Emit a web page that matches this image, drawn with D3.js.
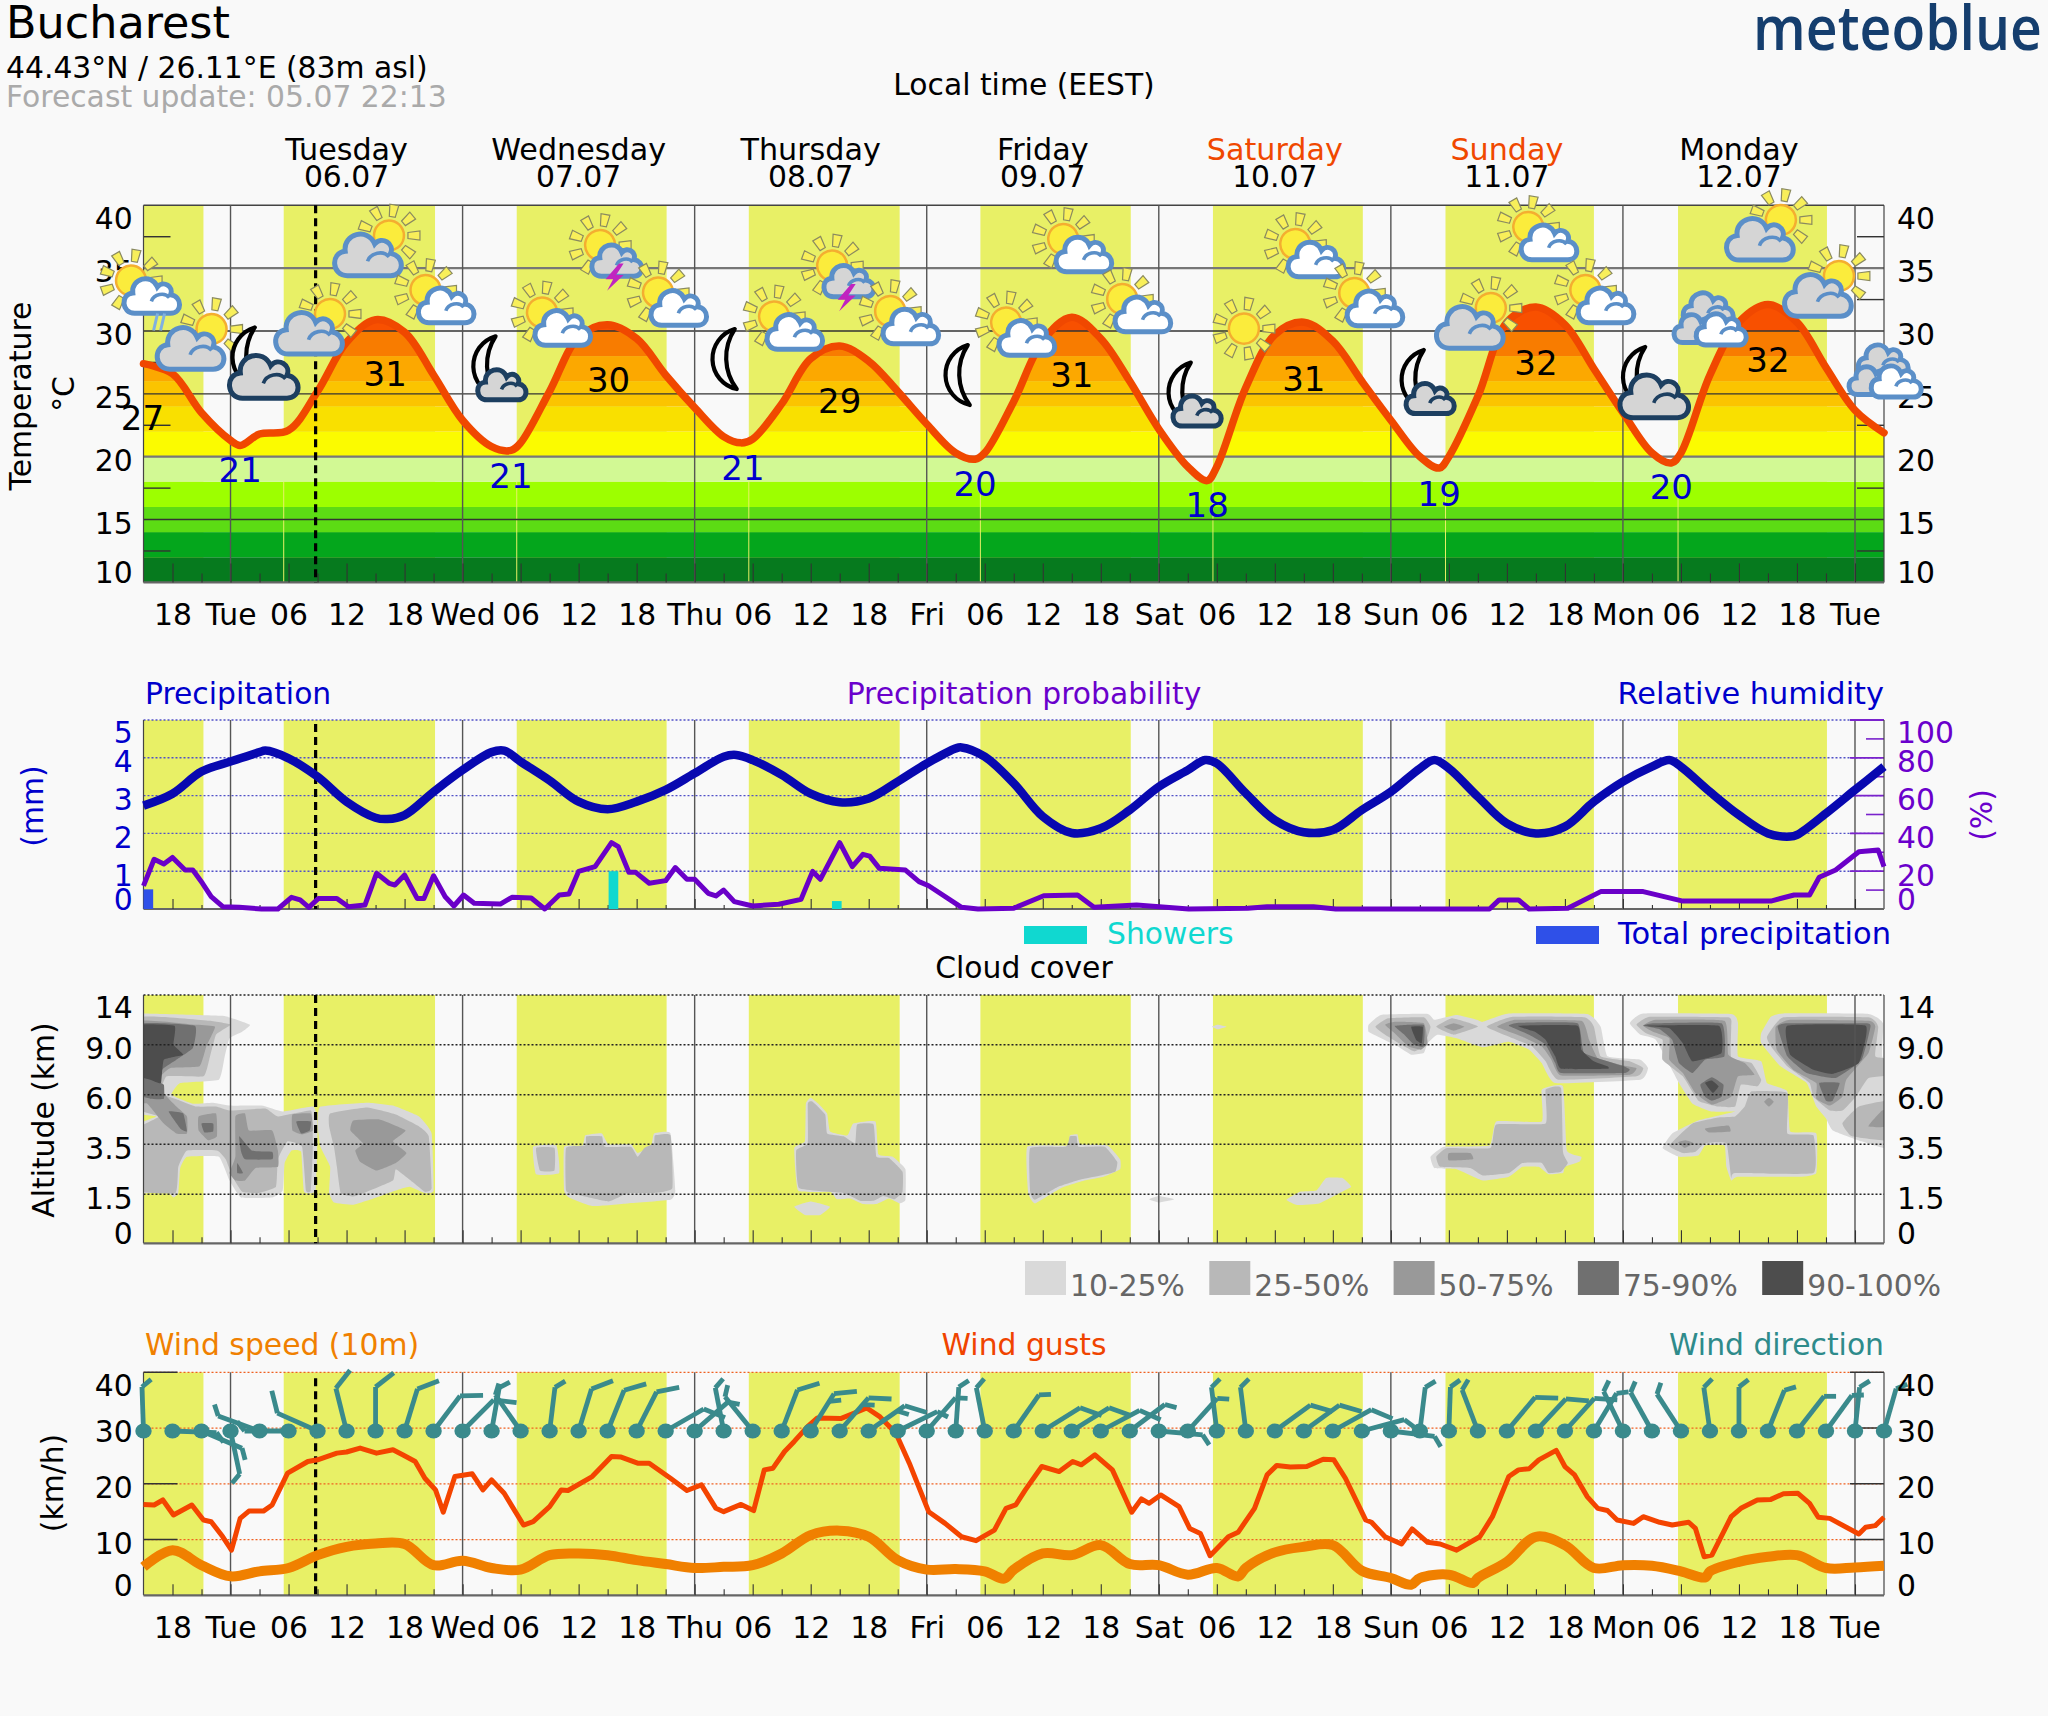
<!DOCTYPE html>
<html><head><meta charset="utf-8">
<script src="https://cdn.jsdelivr.net/npm/d3@7"></script>
<style>html,body{margin:0;padding:0;background:#f9f9f9}svg{display:block}text{font-family:"DejaVu Sans",sans-serif}</style>
</head><body><div id="c"></div>
<script>
// ---------- time base: hours since Monday 15:00, one sample per 3 h ----------
const sampleHours = d3.range(0, 181, 3);
const daylightStart = [-20, 14.5, 38.6, 62.6, 86.55, 110.6, 134.65, 158.7];
const daylightEnd   = [6.2, 30.15, 54.1, 78.2, 102.1, 126.1, 150, 174.1];
const dayLineHours  = [9, 33, 57, 81, 105, 129, 153, 177];
const tickLabels = ["18","Tue","06","12","18","Wed","06","12","18","Thu","06","12","18","Fri","06","12","18","Sat","06","12","18","Sun","06","12","18","Mon","06","12","18","Tue"];
const dayNames = ["Tuesday","Wednesday","Thursday","Friday","Saturday","Sunday","Monday"];
const dayDates = ["06.07","07.07","08.07","09.07","10.07","11.07","12.07"];
const dayNoons = [21,45,69,93,117,141,165];
const nowHour = 17.8;

// ---------- temperature ----------
const temperature = [27.4,26.6,23.5,21.3,21.8,22.1,25.2,29.1,30.9,29.9,26.5,22.9,20.8,21.1,25.2,29.5,30.5,29.4,26.5,23.9,21.6,21.4,24.2,27.8,28.8,27.6,25.2,22.6,20.3,20.3,24.4,29.2,31.1,29.4,26,22.2,19.2,19.2,25.5,29.7,30.7,29.2,26,22.9,20,20,24.8,30.7,31.9,30.5,27,23.5,20.3,20.3,26.5,30.7,32.1,30.7,27.1,23.7,21.9];
const tempExtremeHours  = [10,38,61.8,86,110,134,158];
const tempExtremeValues = [20.9,20.5,21.1,19.8,18.1,19.1,19.5];
const tempBandEdges = [10,12,14,16,18,20,22,24,26,28,30,40];
const tempBandColors = ["#067a1e","#04a61c","#5cdc14","#9dff00","#d2f994","#fbfb00","#f9e000","#fbc400","#fca800","#f87c00","#f85000"];
const tempTicks = [40,35,30,25,20,15,10];
const tempMinorTicks = [37.5,32.5,27.5,22.5,17.5,12.5];
const tempLabelHours  = [0,10,25,38,48.1,62,72,86,96,110,120,134,144,158,168];
const tempLabelPos    = [23.08,18.94,26.58,18.5,26.1,19.1,24.43,17.85,26.52,16.16,26.2,17.03,27.45,17.63,27.7];
const tempLabelValues = [27,21,31,21,30,21,29,20,31,18,31,19,32,20,32];
const tempLabelIsMin  = [0,1,0,1,0,1,0,1,0,1,0,1,0,1,0];
const iconHours = [-0.2,6,11.3,18.25,24.35,30.25,36.1,42.3,48.1,54.3,59.8,66.3,72.1,78.3,83.9,90.3,96.2,102.3,108,113.8,120.2,126.3,132.1,138.3,144.3,150.2,155.1,162.1,168.3,174.3,180.2];
const iconTemps = [33.38,29.36,27.1,30.56,36.8,32.63,26.4,30.84,36.2,32.43,27.77,30.52,34.57,30.95,26.5,30.04,36.68,31.91,24.31,30.19,36.28,32.39,25.31,31.03,37.64,32.63,25.55,30.64,38.04,33.58,26.5];
const iconKinds = ["rain","gray","moonBig","gray","gray","part","moonSmall","part","storm","part","moon","part","storm","part","moon","part","part","part","moonSmall","sun","part","part","moonSmall","gray","part","part","moonBig","clouds","gray","gray","clouds"];

// ---------- precipitation panel ----------
const humidity = [54.7,61,72.7,78,83,79.7,70,56.8,48.3,49.7,62,73.5,83,78,68,56.8,52.8,56.8,63,71.8,80.6,78.8,71,61,56.5,58.5,67.4,77,85,80.6,66.5,48.9,40.2,42.7,52.4,64.7,73.5,77,61.2,47,40.6,41.8,52.4,62,74.4,74.4,59.4,45.3,40,43.6,56.8,67.4,75.3,75.3,62,49.7,40,39.2,50.6,63,75.3];
const humidityExtremeHours  = [12.6,25.2,37.3,61.3,84.6,109.8,133.5,157.8,170.3];
const humidityExtremeValues = [83.8,47.6,83.8,81.5,85.5,78.8,78.8,78.8,38.3];
const probHours = [0,1.1,2.1,3,4.3,5.1,6.1,7,8.2,9.9,12.2,13.9,15.3,16.2,17.1,18.1,20,21.2,22.9,24.1,25.4,26,27,28.3,29,30,31.2,32.1,33.1,34.2,36.9,38.1,40.1,41.5,43,44,45,46.7,48.4,49.1,50.2,50.9,52.3,54,55,56.2,57,58.4,59.2,60,61.1,63,65.7,68,69.2,70,72,73.3,74.4,75.1,76.1,78.8,80.2,81.2,84.6,86.3,90,93.1,96.6,98.3,102.7,108.1,114.2,116.2,121,123.3,139.2,140.2,142.2,143.3,147.3,150.7,155.1,159.2,168.3,170.7,172.3,173.3,175,177.4,179.4,180];
const probValues = [12.2,26.3,23.8,27.3,20.6,20.6,13.6,6.5,1.2,.9,0,0,6.2,4.8,.9,5.6,5.6,1.2,2.1,18.9,13.6,12.7,18,5.6,5.6,17.6,6.5,1.6,7.4,3,2.6,6.2,5.8,0,7.4,7.9,19.9,22.4,35.1,33,19.4,19.4,13.6,15,21.9,15.7,15.7,8.3,6.9,10,3.9,1.6,2.5,5.1,19.9,15.7,35.1,22.4,28.9,28,21.5,20.6,14.5,12.3,.9,0,.4,7,7.4,.9,2.1,0,.4,1.2,1.2,0,0,4.8,4.8,0,.4,9.2,9.2,4.2,4.2,7.4,7.4,16.8,20.6,30.3,31.2,22.4];
const totalPrecipHours = [0];
const totalPrecipValues = [0.52];
const showerHours = [48.1,71.2];
const showerValues = [1.0,0.21];
const mmTicks = [5,4,3,2,1,0];
const pctTicks = [100,80,60,40,20,0];
const pctMinorTicks = [90,70,50,30,10];

// ---------- cloud cover: one list of outlines (hour, km) per class ----------
const cloudAlts = [0,1.5,3.5,6,9,14];
const cloudAltLabels = ["0","1.5","3.5","6.0","9.0","14"];
const cloud10 = [
 [[-1,12.15],[0,12.15],[8.2,11.9],[11,11],[10.2,10.3],[8.9,9.65],[8.4,8.3],[7.8,6.9],[3.8,6.7],[2.9,6],[5.1,5.55],[7.2,5.6],[9,5.45],[12.2,5.45],[14.4,5.15],[17.6,5.4],[18,4.4],[17.8,1.65],[16.6,1.6],[16.3,3.2],[15.3,3.25],[14.6,2.75],[14.4,1.65],[13.3,1.4],[10.1,1.4],[8.9,2.05],[7.8,3],[4.5,3],[3.8,2.55],[3.6,1.55],[3.1,1.4],[2.4,1.6],[-1,1.6],[-1,4.35],[1.3,4.9],[-1,5.25]],
 [[18.3,5.4],[23.1,5.6],[25.8,5.45],[28.5,4.9],[29.8,4.05],[30,1.65],[29.1,1.55],[27.5,1.8],[26.1,1.65],[23.4,1.33],[21.7,1.18],[19.7,1.25],[19.2,1.55],[19.3,2.6],[18.3,3.4],[18,4.55]],
 [[40.3,3.4],[42.7,3.45],[43,2.35],[40.6,2.3]],
 [[43.5,3.4],[45.4,3.45],[45.7,3.95],[47.4,4.05],[48.1,3.5],[50.4,3.5],[51.1,3.15],[52.5,3.45],[52.8,4.05],[54.5,4.05],[55,1.65],[54.5,1.33],[50.1,1.22],[46.4,1.14],[44,1.4],[43.5,1.65]],
 [[69,5.85],[69.8,5.55],[70.7,5.05],[71,4.15],[72.8,3.95],[73.4,4.55],[75.7,4.65],[76,3.1],[77.5,3],[78.8,2.5],[78.8,1.33],[78.2,1.22],[77.1,1.37],[75.8,1.2],[74.4,1.2],[73.1,1.37],[71.7,1.35],[71,1.6],[67.7,1.65],[67.3,3.35],[68.4,3.65],[68.5,5.55]],
 [[67.3,1.12],[69,1.28],[71,1.12],[70,.87],[68.4,.87]],
 [[91.4,3.4],[95.6,3.45],[95.8,3.95],[96.6,4],[96.9,3.5],[99.7,3.45],[101,2.9],[101,2.5],[99.3,2.2],[97.3,2.05],[94.9,1.75],[92.2,1.22],[91.5,1.55]],
 [[104,1.35],[105,1.45],[106.6,1.35],[105,1.25]],
 [[118.2,1.33],[119.6,1.6],[121.3,1.65],[122.3,2.15],[124,2.15],[124.9,1.8],[123.7,1.55],[121.6,1.22],[119.3,1.17]],
 [[110.5,10.8],[111.1,11],[112,10.8],[111.1,10.55]],
 [[126.7,11],[128,12],[132.8,12.1],[133.5,11.5],[135.8,12],[137.9,11.5],[138.5,11.3],[141.2,12.15],[149.3,12.1],[150.7,10.8],[151.4,8.3],[154.8,8.1],[155.6,7.6],[154.8,6.9],[146,6.7],[144.6,7.9],[143.3,8.7],[141.2,9.3],[138.5,8.85],[135.8,9.65],[133.8,10],[132.8,9.15],[132.4,8.5],[131.1,8.4],[129.7,8.9],[128,9.65],[126.7,10.3]],
 [[133.1,3],[134.5,3.4],[139.2,3.45],[139.9,4.65],[144.6,4.65],[144.6,6.3],[146.8,6.5],[147.2,3.25],[148.7,3],[148.5,2.8],[147,2.6],[146.8,2.35],[145.3,2.3],[144.3,2.6],[142.6,2.6],[141.2,2.2],[138.5,2.05],[135.8,2.5],[133.5,2.55]],
 [[153.7,11.15],[155.1,12.15],[164.2,12.1],[164.9,11.15],[164.9,8.3],[167.3,8],[167.9,6.7],[170,6.2],[170.3,4.15],[173,4.05],[173,2.35],[171.3,2.2],[164.9,2.2],[164.2,2.05],[163.7,2.6],[163.5,3.45],[161.5,3.45],[160.8,3.05],[158.8,3],[157.1,3.35],[158.1,4.05],[160.8,4.7],[164.6,5.15],[162.2,5.15],[160.2,5.55],[158.8,6.7],[156.4,9.5],[154.8,10]],
 [[167.3,10.15],[168.3,11.8],[169.6,12.15],[178.4,12.1],[179.9,11.15],[179.8,8.3],[181,7.3],[181,3.35],[177.7,3.65],[174.7,4.2],[174,4.8],[173,5.4],[172,6.7],[169.3,7.7],[167.3,9.15]]
];
const cloud25 = [
 [[-1,11.65],[6.8,11.4],[9,11],[7.5,10],[6.8,8.1],[6.2,7.1],[2.4,7.1],[1.8,6.1],[3.8,5.7],[5.5,5.4],[7.5,5.4],[8.9,5.2],[12.6,5.3],[13.9,4.9],[17.3,5.2],[17.5,4.3],[17.5,3.15],[17.3,1.65],[16.8,1.65],[16.4,3.4],[14.9,3.65],[13.9,2.9],[13.7,1.8],[11.9,1.55],[10.2,1.6],[9.2,2.2],[8.5,2.9],[7.6,3.25],[4.5,3.25],[3.6,2.6],[3.3,1.55],[-1,1.7],[-1,4.15],[1.6,4.9],[-1,5.45]],
 [[19.3,5.05],[23.1,5.35],[26.1,5],[28.5,4.4],[29.5,3.9],[29.8,1.75],[29.1,1.6],[27.8,2],[26.1,2.5],[25.8,2.05],[23.1,1.6],[21.7,1.43],[20.4,1.55],[20,2.6],[19.7,3.4],[19.2,4.4]],
 [[40.6,3.35],[42.5,3.35],[42.5,2.45],[41,2.45]],
 [[43.7,3.35],[45.7,3.45],[45.8,3.9],[47.4,3.9],[47.7,3.4],[50.4,3.4],[51.1,3],[51.8,3.35],[52.8,3.55],[52.9,3.95],[54.5,3.95],[54.7,1.75],[52.8,1.55],[50.1,1.55],[48.1,1.28],[44.7,1.5],[43.7,1.65]],
 [[69.2,5.65],[70.5,5],[70.7,4.05],[72.4,3.9],[73.6,3.55],[73.8,4.5],[75.5,4.5],[75.8,3],[77.1,2.95],[78.5,2.4],[78.5,1.6],[77.7,1.35],[76.5,1.45],[75.5,1.3],[74.1,1.3],[72.4,1.55],[67.8,1.75],[67.5,3.25],[68.7,3.55],[68.7,5.55]],
 [[91.7,3.35],[95.4,3.4],[95.8,3.9],[96.5,3.9],[96.7,3.4],[99.4,3.4],[100.7,2.8],[100.5,2.4],[99,2.25],[97,2.1],[94.6,1.8],[92.2,1.33],[91.7,1.6]],
 [[127.4,10.8],[128.7,11.65],[132.4,11.75],[133.1,10.8],[132.8,9.8],[132.1,8.8],[131.4,8.6],[130.1,9],[128.4,10]],
 [[133.7,10.8],[135.3,11.65],[137.2,11.15],[138,10.8],[135.5,10]],
 [[138.9,10.8],[141.6,11.8],[149,11.75],[150,10.8],[150.7,8.3],[153.7,8],[155.1,7.6],[154.4,7.1],[146.3,6.9],[145,8],[143.6,8.9],[141.6,9.65]],
 [[133.7,3],[134.8,3.35],[139.3,3.35],[139.9,4.5],[145,4.55],[145,6.3],[146.6,6.4],[146.8,3.2],[147.3,2.75],[146.6,2.4],[145.3,2.35],[144.6,2.75],[142.6,2.75],[141.2,2.35],[138.5,2.25],[137.2,2.55],[134.1,2.6]],
 [[154.4,11],[155.8,11.8],[163.9,11.75],[164.2,10.8],[164.2,8.2],[166.3,7.9],[167.3,6.9],[166.9,6.5],[165.2,6.6],[164.6,5.4],[162.9,5.4],[160.8,5.7],[159.2,7.1],[157.1,8.1],[157.1,9.5],[155.4,10.15]],
 [[166.3,6.2],[170,6.1],[170,4.05],[172.7,3.95],[172.7,2.35],[164.6,2.35],[164.2,2.15],[163.7,3.55],[161.5,3.55],[160.5,3.2],[159.2,3.15],[157.8,3.45],[160.2,4.55],[162.9,4.85],[164.6,4.9],[165.6,5.4]],
 [[167.9,9.8],[169.6,11.75],[178.4,11.75],[179.4,10.8],[179.1,8.3],[181,8.1],[181,7.2],[178.4,7],[177.1,5.9],[175.7,5.2],[174.4,5.2],[172.7,5.9],[172.3,6.7],[170,7.7],[168.3,8.9]],
 [[175.7,4.55],[177.4,5.4],[181,5.7],[181,3.7],[176.7,3.9]]
];
const cloud50 = [
 [[-1,11.3],[5.5,11],[7.4,10.8],[6.5,8.9],[5.8,7.7],[2.8,7.6],[1.8,7.1],[2.1,6.1],[3.4,5.4],[4.5,4.9],[4.5,4.05],[3.4,4.05],[2.1,4.55],[.4,5.55],[-1,5.7]],
 [[5.7,4.9],[7.5,5.05],[7.6,3.9],[6.7,3.7],[5.7,4.2]],
 [[9.5,4.9],[10.5,5.05],[10.9,4.2],[13.3,4.2],[13.9,3.25],[13.9,2.6],[11.6,2.55],[10.5,2.05],[9.5,2.05],[8.9,2.35],[9.5,3]],
 [[15.4,5],[17.3,5.05],[17.5,4.2],[16.4,4],[15.4,4.2]],
 [[21.7,4.7],[24.4,4.75],[27.1,4.2],[25.8,3.65],[27.2,3.15],[26.1,2.75],[24.1,2.45],[22.4,2.8],[21.9,3.25],[22.7,3.55],[21.4,4.2]],
 [[128.4,11],[129.4,11.3],[132.4,11.15],[132.8,9.15],[132.1,8.7],[130.8,8.9],[129.4,10.15]],
 [[134.5,10.8],[135.5,11.15],[136.6,10.8],[135.5,10.4]],
 [[140,10.8],[141.9,11.5],[148.7,11.4],[149.5,9.5],[150.4,8.2],[152.7,7.8],[154.4,7.6],[153.7,7.2],[146.6,7.15],[145.6,8.1],[144.6,8.9],[142.6,9.8]],
 [[135,3.15],[137.2,3.15],[137.5,2.9],[135,2.85]],
 [[155.1,10.9],[156.4,11.5],[163.5,11.4],[163.9,8.4],[165.6,7.9],[166.6,7.2],[164.9,7.1],[164.2,5.9],[162.2,5.5],[160.5,6.1],[159.2,7.3],[157.8,8.1],[157.8,9.65],[156.1,10.3]],
 [[161.5,4.3],[163.9,4.45],[164.1,4.15],[161.9,4.1]],
 [[158.7,3.6],[159.5,3.7],[160.3,3.55],[159.4,3.35]],
 [[168.1,5.85],[168.6,5.65],[168.1,5.4],[167.6,5.65]],
 [[168.8,10.8],[170.3,11.5],[178.4,11.4],[179.1,10.8],[178.4,8.5],[176.1,6.9],[175.7,5.9],[174.4,5.45],[173,5.8],[173,6.7],[170.6,7.5],[168.9,8.7]],
 [[178.4,4.4],[179.8,5.2],[181,5.2],[181,4.4]]
];
const cloud75 = [
 [[-1,11],[5.3,10.9],[5.1,8.8],[3.4,8.1],[2.1,7.6],[1.1,6.9],[2.1,6.6],[2.1,5.8],[.7,5.8],[-1,6.2]],
 [[2.6,5.15],[4.1,5.05],[4.5,4.15],[3.8,4.3]],
 [[6,4.55],[7.2,4.55],[7.2,4.15],[6.3,4.1]],
 [[9.9,3.9],[11.2,3.25],[13.3,3.2],[13.3,2.9],[10.5,2.9],[10.1,3.2]],
 [[15.8,4.65],[17.3,4.65],[17.2,4.2],[16.3,4.05]],
 [[9.7,2.75],[10.3,2.35],[9.7,2.35]],
 [[129.4,10.9],[132.4,11],[132.4,8.9],[131.4,9],[130.4,10]],
 [[141.2,10.9],[142.2,11.2],[148.3,11.15],[149,8.5],[153.1,7.7],[153.7,7.5],[153.1,7.3],[146.6,7.3],[146,7.9],[145,9],[143.3,10]],
 [[155.1,10.9],[156.1,11.15],[163.2,11.15],[163.5,8.3],[161.5,8.1],[160.2,7.3],[158.8,7.9],[158.1,9.5],[156.8,10.55]],
 [[161,6.6],[162.2,7.05],[163.4,6.6],[163.2,5.9],[162.2,5.7],[161.5,5.9]],
 [[169,10.8],[170,11.15],[178.1,11.15],[178.6,10.8],[177.7,8.1],[175,7],[172,7.3],[170,8.3]],
 [[173.3,6.7],[175.4,6.7],[174.7,5.7],[174,5.7]]
];
const cloud90 = [
 [[-1,10.9],[3.2,10.9],[3.1,9],[4.1,8.4],[2.1,8.1],[1.8,6.7],[.7,6.9],[-1,7.3]],
 [[131.1,10.8],[132.3,10.8],[132.2,9.15],[131.6,9.5]],
 [[142.2,10.9],[148.3,10.9],[148.7,8.7],[150,8],[151.4,7.7],[151.4,7.55],[146.6,7.55],[146,8.3],[145,9.5],[143.9,10.3]],
 [[155.1,10.9],[162.9,10.9],[163.2,8.5],[160.2,8],[159.2,9.15],[157.8,10.65]],
 [[161.5,6.7],[162.2,6.85],[162.9,6.5],[162.3,6.1]],
 [[170,10.9],[178.1,10.9],[177.4,7.9],[174.7,7.25],[172.7,7.5],[170.3,8.4]]
];
const cloudClasses = [cloud10,cloud25,cloud50,cloud75,cloud90];
const cloudColors = ["#d9d9d9","#b8b8b8","#999999","#707070","#4d4d4d"];
const cloudLegend = ["10-25%","25-50%","50-75%","75-90%","90-100%"];

// ---------- wind ----------
const windSpeed = [5.1,8.1,5.4,3.4,4.3,4.9,7.2,8.7,9.3,9.2,5.4,6.2,4.9,4.6,7.2,7.5,7.2,6.3,5.6,4.9,5.1,5.4,7.5,10.8,11.6,10.5,6.3,4.6,4.7,4.3,4.6,7.5,7.2,9,5.6,5.4,3.7,4.9,4.9,7.7,8.7,9,4.4,3.1,3.1,3.7,3.1,6,10.5,9,4.9,5.4,5.3,4.3,4.3,6,6.9,7.2,4.9,5,5.3];
const windDipHours  = [89,113.2,131.1,137.5,161.5];
const windDipValues = [3,3.4,1.9,2.2,3.2];
const gustHours = [0,1.1,2,3.1,5,6.2,7,8.2,9.1,10,10.9,12.4,13.3,14.9,17,18,20,21,22.4,24.1,25.8,26.8,28.1,29.1,30.2,31,32.2,34,35.1,36,37.3,39.3,40.3,42,43.2,43.9,46.4,48.4,49.4,51.1,52.3,54.5,56.2,57.7,59.2,60,61.8,63.1,64.2,65.1,66.3,67.3,68.7,69.7,72.1,74.8,76.1,77.8,79.2,81.2,82.9,84.6,86.1,88,89.2,90.2,91.2,92.9,94.7,96.1,97,98.4,100.2,102.2,103.2,104,105.2,107.1,108.2,109.3,110.3,112.2,113.2,114.9,116.2,117.2,118.6,120.3,122,123.1,124.3,126.4,127,128.4,130.1,131.2,132.8,134.1,135.8,138.2,139.5,141.2,142.2,143.3,144.3,146.1,147,148,149.3,150.4,151.4,152.4,154.1,155.1,156.8,158.1,159.8,160.5,161.4,162.2,164.2,165.2,166.9,168.3,169.6,171.1,172.3,173.2,174.4,177.4,178.1,179.1,180];
const gustValues = [16.3,16.2,17.1,14.4,16.2,13.5,13.2,10.5,8.1,13.8,15.1,15.1,16.2,21.9,24,24.3,25.5,25.7,26.4,25.5,26.1,25.2,24,21,18.9,14.9,21.3,21.8,18.9,20.7,18.3,12.6,13.2,15.9,18.9,18.8,21.3,24.9,24.8,23.7,23.7,21,18.8,19.8,15.6,15,16.3,15.2,22.5,22.8,25.8,27.6,30.3,31.8,31.7,33.6,32.1,29.1,23.7,15,12.9,10.5,9.8,11.7,15.6,16.2,18.9,23.1,22.2,24,23.4,25.2,22.5,14.9,17.3,16.5,18,15.9,12,11.1,7.1,10.5,11.3,15.6,21.6,23.3,23,23.1,24.4,24.3,21,13.5,13.1,10.5,9.2,11.9,9.5,9.2,8.1,10.5,14.1,21.3,22.5,22.7,24.3,26,23.1,21.6,17.7,15.6,15.2,13.5,12.9,14.1,13.1,12.6,13.1,12,6.9,7.2,14.1,15.6,17.1,17.2,18.2,18.3,16.5,14,13.8,11,12.2,12.5,14];
const windDirection = [358,92,113,168,290,270,294,346,0,17,37,45,10,325,7,17,22,27,60,49,349,321,21,32,41,55,64,41,4,349,35,58,58,62,53,95,42,353,353,54,54,61,75,97,7,2,339,40,43,42,31,334,331,327,352,0,22,38,36,6,16];
const windBarbUnits = [1,1,1,1,1,1,2,2,2,2,2,2,1,1,1,2,2,2,2,1,1,1,2,3,3,3,1,1,1,1,1,2,2,2,1,1,1,1,1,2,2,2,1,1,1,1,1,2,2,2,1,1,1,1,1,1,1,1,1,1,1];
const windTicks = [40,30,20,10,0];

// ---------- layout ----------
const W=2048,H=1716,L=143.5,R=1884,FS=29.8;
const x=d3.scaleLinear().domain([0,180]).range([L,R]);
const yT=d3.scaleLinear().domain([10,40]).range([582.4,205.3]);
const yP=d3.scaleLinear().domain([0,100]).range([909,720]);
const yMm=d3.scaleLinear().domain([0,5]).range([909,720]);
const yC=d3.scaleLinear().domain(cloudAlts).range([1243.3,1194.3,1144.3,1094.7,1044.7,995]);
const yW=d3.scaleLinear().domain([0,40]).range([1595.3,1372.3]);
const merged=(hs,vs,eh,ev)=>hs.map((h,i)=>[h,vs[i]]).concat(eh.map((h,i)=>[h,ev[i]])).sort((a,b)=>a[0]-b[0]);

const svg=d3.select("#c").append("svg").attr("width",W).attr("height",H).attr("viewBox",`0 0 ${W} ${H}`);
svg.append("rect").attr("width",W).attr("height",H).attr("fill","#f9f9f9");
const defs=svg.append("defs");
function txt(g,xx,yy,s,o={}){
  const t=g.append("text").attr("x",xx).attr("y",yy).attr("dy",".36em").text(s)
   .attr("font-size",o.size||FS).attr("fill",o.fill||"#000").attr("text-anchor",o.anchor||"start");
  if(o.rot) t.attr("transform",`rotate(${o.rot} ${xx} ${yy})`);
  if(o.weight) t.attr("font-weight",o.weight);
  return t;
}
function stripes(g,top,bot){
  daylightStart.forEach((s,i)=>{
    const a=Math.max(x(s),L),b=x(daylightEnd[i]);
    g.append("rect").attr("x",a).attr("y",top).attr("width",b-a).attr("height",bot-top).attr("fill","#e8f066");
  });
}
function dayLines(g,top,bot){
  dayLineHours.forEach(h=>g.append("line").attr("x1",x(h)).attr("x2",x(h)).attr("y1",top).attr("y2",bot).attr("stroke","#555").attr("stroke-width",1.4));
}
function frame(g,top,bot){
  g.append("line").attr("x1",L).attr("x2",L).attr("y1",top).attr("y2",bot).attr("stroke","#444").attr("stroke-width",1.2);
  g.append("line").attr("x1",R).attr("x2",R).attr("y1",top).attr("y2",bot).attr("stroke","#444").attr("stroke-width",1.2);
  g.append("line").attr("x1",L).attr("x2",R).attr("y1",bot).attr("y2",bot).attr("stroke","#666").attr("stroke-width",2.2);
}
function nowLine(g,top,bot){
  g.append("line").attr("x1",x(nowHour)).attr("x2",x(nowHour)).attr("y1",top).attr("y2",bot)
   .attr("stroke","#000").attr("stroke-width",3.2).attr("stroke-dasharray","8 5");
}
function timeTicks(g,bot,tall,short,labels,pad){
  const major=d3.range(3,180,6), minor=d3.range(6,180,6);
  const ax=g.append("g").attr("transform",`translate(0,${bot})`)
    .call(d3.axisBottom(x).tickValues(major).tickSize(-tall).tickPadding(pad||0).tickFormat((d,i)=>labels?tickLabels[i]:""));
  const bx=g.append("g").attr("transform",`translate(0,${bot})`)
    .call(d3.axisBottom(x).tickValues(minor).tickSize(-short).tickFormat(""));
  [ax,bx].forEach(a=>{a.select(".domain").remove();a.selectAll("line").attr("stroke","#333").attr("stroke-width",1.1);
    a.selectAll("text").attr("font-size",FS).attr("font-family","DejaVu Sans").attr("fill","#000");});
}
function yLabels(g,values,scale,labels,top,bot,xx,anchor,fill){
  values.forEach((v,i)=>{
    const py=Math.min(Math.max(scale(v)+3.6,top+12.7),bot-10.2);
    txt(g,xx,py,labels?labels[i]:String(v),{anchor,fill});
  });
}
function hTicks(g,values,scale,len,color,w,both=true){
  values.forEach(v=>{
    if(both) g.append("line").attr("x1",L).attr("x2",L+len).attr("y1",scale(v)).attr("y2",scale(v)).attr("stroke",color).attr("stroke-width",w);
    g.append("line").attr("x1",R-len).attr("x2",R).attr("y1",scale(v)).attr("y2",scale(v)).attr("stroke",color).attr("stroke-width",w);
  });
}

// ---------- header ----------
const head=svg.append("g");
txt(head,6,22,"Bucharest",{size:44.5});
txt(head,6,67,"44.43°N / 26.11°E (83m asl)");
txt(head,6,96,"Forecast update: 05.07 22:13",{fill:"#aaaaaa"});
txt(head,1024,84,"Local time (EEST)",{anchor:"middle"});
txt(head,1753,28,"meteoblue",{size:62,fill:"#153e6e",weight:600}).style("font-family","'Open Sans'").attr("textLength",289).attr("lengthAdjust","spacingAndGlyphs");
dayNames.forEach((d,i)=>{
  const c=(d==="Saturday"||d==="Sunday")?"#f04800":"#000";
  txt(head,x(dayNoons[i]),149,d,{anchor:"middle",fill:c,size:30.2});
  txt(head,x(dayNoons[i]),176,dayDates[i],{anchor:"middle"});
});

// ---------- temperature panel ----------
const gT=svg.append("g");
const plotT=[yT(40),yT(10)];
stripes(gT,plotT[0],plotT[1]);
const tempXY=merged(sampleHours,temperature,tempExtremeHours,tempExtremeValues);
const tempArea=d3.area().x(d=>x(d[0])).y0(yT(10)).y1(d=>yT(d[1])).curve(d3.curveCatmullRom.alpha(.5));
defs.append("clipPath").attr("id","tempClip").append("path").attr("d",tempArea(tempXY));
const bands=gT.append("g").attr("clip-path","url(#tempClip)");
tempBandColors.forEach((c,i)=>bands.append("rect").attr("x",L).attr("width",R-L)
  .attr("y",yT(tempBandEdges[i+1])).attr("height",yT(tempBandEdges[i])-yT(tempBandEdges[i+1])).attr("fill",c));
daylightStart.slice(1).forEach(s=>gT.append("line").attr("x1",x(s)).attr("x2",x(s)).attr("y1",yT(18)).attr("y2",yT(10)).attr("stroke","#e8f066").attr("stroke-width",1));
gT.append("line").attr("x1",L).attr("x2",R).attr("y1",yT(40)).attr("y2",yT(40)).attr("stroke","#444").attr("stroke-width",1.4);
tempTicks.slice(1,6).forEach(v=>gT.append("line").attr("x1",L).attr("x2",R).attr("y1",yT(v)).attr("y2",yT(v))
  .attr("stroke",(v===35||v===20)?"#777":"#333").attr("stroke-width",(v===35||v===20)?2.3:1.4));
dayLines(gT,plotT[0],plotT[1]);
hTicks(gT,tempMinorTicks,yT,27,"#333",1.4);
frame(gT,plotT[0],plotT[1]);
timeTicks(gT,plotT[1],19,9,true,21);
gT.append("path").attr("d",d3.line().x(d=>x(d[0])).y(d=>yT(d[1])).curve(d3.curveCatmullRom.alpha(.5))(tempXY))
  .attr("fill","none").attr("stroke","#f04800").attr("stroke-width",7.5).attr("stroke-linecap","round");
nowLine(gT,plotT[0],plotT[1]);
yLabels(gT,tempTicks,yT,null,plotT[0],plotT[1],132.6,"end");
yLabels(gT,tempTicks,yT,null,plotT[0],plotT[1],1897,"start");
txt(gT,20,396,"Temperature",{anchor:"middle",rot:-90});
txt(gT,63,394,"°C",{anchor:"middle",rot:-90});
tempLabelValues.forEach((v,i)=>txt(gT,x(tempLabelHours[i])+(i===0?-1:0),yT(tempLabelPos[i]),String(v),
  {size:34,anchor:"middle",fill:tempLabelIsMin[i]?"#0000cc":"#000"}));

// ---------- precipitation panel ----------
const gP=svg.append("g");
const plotP=[yP(100),yP(0)];
stripes(gP,plotP[0],plotP[1]);
mmTicks.slice(0,5).forEach(v=>gP.append("line").attr("x1",L).attr("x2",R).attr("y1",yMm(v)).attr("y2",yMm(v))
  .attr("stroke","#5050c8").attr("stroke-width",1.4).attr("stroke-dasharray","2 2"));
dayLines(gP,plotP[0],plotP[1]);
hTicks(gP,pctTicks,yP,34,"#7a22cc",1.8,false);
hTicks(gP,pctMinorTicks,yP,18,"#7a22cc",1.6,false);
frame(gP,plotP[0],plotP[1]);
timeTicks(gP,plotP[1],10,4,false);
gP.selectAll(".tp").data(totalPrecipHours).join("rect").attr("x",d=>x(d)).attr("width",d=>x(d+1)-x(d))
  .attr("y",(d,i)=>yMm(totalPrecipValues[i])).attr("height",(d,i)=>yMm(0)-yMm(totalPrecipValues[i])).attr("fill","#2f50e8");
gP.selectAll(".sh").data(showerHours).join("rect").attr("x",d=>x(d)).attr("width",d=>x(d+1)-x(d))
  .attr("y",(d,i)=>yMm(showerValues[i])).attr("height",(d,i)=>yMm(0)-yMm(showerValues[i])).attr("fill","#10d8d0");
nowLine(gP,plotP[0]+4,plotP[1]);
gP.append("path").attr("d",d3.line().x(d=>x(d[0])).y(d=>yP(d[1])).curve(d3.curveCatmullRom.alpha(.5))(merged(sampleHours,humidity,humidityExtremeHours,humidityExtremeValues)))
  .attr("fill","none").attr("stroke","#0808b0").attr("stroke-width",8.5);
gP.append("path").attr("d",d3.line().x(d=>x(d)).y((d,i)=>yP(probValues[i])).curve(d3.curveLinear)(probHours))
  .attr("fill","none").attr("stroke","#6a00c8").attr("stroke-width",5).attr("stroke-linejoin","round");
yLabels(gP,mmTicks,yMm,null,plotP[0],plotP[1],132.6,"end","#0000cc");
yLabels(gP,pctTicks,yP,null,plotP[0],plotP[1],1897,"start","#6a00cc");
txt(gP,145,693,"Precipitation",{fill:"#0000cc"});
txt(gP,1024,693,"Precipitation probability",{anchor:"middle",fill:"#6a00cc"});
txt(gP,1884,693,"Relative humidity",{anchor:"end",fill:"#0000cc",size:30.4});
txt(gP,32,806,"(mm)",{anchor:"middle",rot:-90,fill:"#0000cc"});
txt(gP,1981,815,"(%)",{anchor:"middle",rot:-90,fill:"#6a00cc"});
gP.append("rect").attr("x",1024).attr("y",926).attr("width",63).attr("height",18).attr("fill","#10d8d0");
txt(gP,1107,933,"Showers",{fill:"#10d8d0"});
gP.append("rect").attr("x",1536).attr("y",926).attr("width",63).attr("height",18).attr("fill","#2f50e8");
txt(gP,1618,933,"Total precipitation",{fill:"#0000cc",size:30.5});

// ---------- cloud panel ----------
const gC=svg.append("g");
const plotC=[yC(14),yC(0)];
stripes(gC,plotC[0],plotC[1]);
defs.append("clipPath").attr("id","cloudClip").append("rect").attr("x",L).attr("y",plotC[0]).attr("width",R-L).attr("height",plotC[1]-plotC[0]);
const blobs=gC.append("g").attr("clip-path","url(#cloudClip)");
const blobLine=d3.line().x(d=>x(d[0])).y(d=>yC(d[1])).curve(d3.curveCardinalClosed.tension(.65));
cloudClasses.forEach((rings,i)=>{
  blobs.append("g").attr("fill",cloudColors[i]).selectAll("path").data(rings).join("path").attr("d",blobLine);
});
cloudAlts.slice(1).forEach(v=>gC.append("line").attr("x1",L).attr("x2",R).attr("y1",yC(v)).attr("y2",yC(v))
  .attr("stroke","#222").attr("stroke-width",1.5).attr("stroke-dasharray","2 2"));
dayLines(gC,plotC[0],plotC[1]);
frame(gC,plotC[0],plotC[1]);
timeTicks(gC,plotC[1],13,6,false);
nowLine(gC,plotC[0],plotC[1]);
yLabels(gC,cloudAlts,yC,cloudAltLabels,plotC[0],plotC[1],132.6,"end");
yLabels(gC,cloudAlts,yC,cloudAltLabels,plotC[0],plotC[1],1897,"start");
txt(gC,1024,967,"Cloud cover",{anchor:"middle"});
txt(gC,43,1120,"Altitude (km)",{anchor:"middle",rot:-90});
cloudLegend.forEach((s,i)=>{
  const sx=1025+i*184.3;
  gC.append("rect").attr("x",sx).attr("y",1261).attr("width",41).attr("height",34).attr("fill",cloudColors[i]);
  txt(gC,sx+45,1285,s,{fill:"#666"});
});

// ---------- wind panel ----------
const gW=svg.append("g");
const plotW=[yW(40),yW(0)];
stripes(gW,plotW[0],plotW[1]);
windTicks.slice(0,4).forEach(v=>gW.append("line").attr("x1",L).attr("x2",R).attr("y1",yW(v)).attr("y2",yW(v))
  .attr("stroke","#f06020").attr("stroke-width",1.3).attr("stroke-dasharray","2 2"));
dayLines(gW,plotW[0],plotW[1]);
hTicks(gW,[40,20,10],yW,34,"#333",1.6);
gW.append("line").attr("x1",R-34).attr("x2",R).attr("y1",yW(30)).attr("y2",yW(30)).attr("stroke","#333").attr("stroke-width",1.4);
frame(gW,plotW[0],plotW[1]);
timeTicks(gW,plotW[1],11,6,true,22);
nowLine(gW,plotW[0]+6,plotW[1]);
gW.append("path").attr("d",d3.line().x(d=>x(d[0])).y(d=>yW(d[1])).curve(d3.curveCatmullRom.alpha(.5))(merged(sampleHours,windSpeed,windDipHours,windDipValues)))
  .attr("fill","none").attr("stroke","#f08000").attr("stroke-width",10);
gW.append("path").attr("d",d3.line().x(d=>x(d)).y((d,i)=>yW(gustValues[i]))(gustHours))
  .attr("fill","none").attr("stroke","#f44400").attr("stroke-width",5).attr("stroke-linejoin","round");
// barbs
const barbColor="#3a8a8c", barbBaseY=1431, stemLen=44, longBarb=23, shortBarb=12;
const barbG=gW.append("g").attr("stroke",barbColor).attr("fill","none").attr("stroke-width",4.8).attr("stroke-linecap","butt");
function polar(a,r){const t=a*Math.PI/180;return [r*Math.sin(t),-r*Math.cos(t)];}
windDirection.forEach((dir,i)=>{
  const px=x(sampleHours[i]);
  const [dx,dy]=polar(dir,stemLen);
  const tx=px+dx,ty=barbBaseY+dy;
  barbG.append("line").attr("x1",px).attr("y1",barbBaseY).attr("x2",tx).attr("y2",ty);
  let u=windBarbUnits[i],off=0;
  while(u>0){
    const [ox,oy]=polar(dir,stemLen-off);
    const len=u>=2?longBarb:shortBarb;
    const [bx,by]=polar(dir+52,len);
    barbG.append("line").attr("x1",px+ox).attr("y1",barbBaseY+oy).attr("x2",px+ox+bx).attr("y2",barbBaseY+oy+by);
    u-=2;off+=9;
  }
  gW.append("ellipse").attr("cx",px).attr("cy",barbBaseY).attr("rx",8.2).attr("ry",7.4).attr("fill",barbColor);
});
yLabels(gW,windTicks,yW,null,plotW[0],plotW[1],132.6,"end");
yLabels(gW,windTicks,yW,null,plotW[0],plotW[1],1897,"start");
txt(gW,145,1344,"Wind speed (10m)",{fill:"#f08000"});
txt(gW,1024,1344,"Wind gusts",{anchor:"middle",fill:"#f04400"});
txt(gW,1884,1344,"Wind direction",{anchor:"end",fill:"#2e8b8b"});
txt(gW,52,1483,"(km/h)",{anchor:"middle",rot:-90});

// ---------- weather icons ----------
const gI=svg.append("g");
const CLOUD="M-30,28 C-52,28 -54,-4 -33,-6 C-36,-30 -2,-40 8,-16 C18,-28 36,-16 30,-3 C50,0 50,28 30,28 Z";
const CURL="M-2,8 C2,-4 20,-8 28,2";
function cloud(g,cx,cy,w,fill,stroke){
  const s=w/100, n=g.append("g").attr("transform",`translate(${cx},${cy}) scale(${s})`);
  n.append("path").attr("d",CLOUD).attr("fill",fill).attr("stroke",stroke).attr("stroke-width",5/s);
  n.append("path").attr("d",CURL).attr("fill","none").attr("stroke",stroke).attr("stroke-width",3.6/s);
}
function sun(g,cx,cy){
  const n=g.append("g").attr("transform",`translate(${cx},${cy}) rotate(10)`);
  d3.range(9).forEach(i=>{
    n.append("path").attr("transform",`rotate(${i*40})`).attr("d","M-3,-19 L-4.5,-31 L4.5,-31 L3,-19 Z")
     .attr("fill","#f8ef5a").attr("stroke","#8a8a60").attr("stroke-width",1.2);
  });
  n.append("circle").attr("r",15).attr("fill","#fbec3c").attr("stroke","#f4ae30").attr("stroke-width",2.5);
}
function moon(g,cx,cy){
  g.append("path").attr("transform",`translate(${cx},${cy})`)
   .attr("d","M13,-30 A31 31 0 0 0 15,30 A52 52 0 0 1 13,-30 Z")
   .attr("fill","#f9f9f9").attr("stroke","#000").attr("stroke-width",4.2).attr("stroke-linejoin","round");
}
const BLUE="#5b8fc8", NAVY="#1d3f60";
iconKinds.forEach((k,i)=>{
  const cx=x(iconHours[i]),cy=yT(iconTemps[i]);
  if(k==="sun"){sun(gI,cx,cy);}
  if(k==="part"||k==="rain"){sun(gI,cx-10.5,cy-8);cloud(gI,cx+11,cy+8,60,"#ffffff",BLUE);
    if(k==="rain"){gI.append("path").attr("d",`M${cx+16},${cy+25} l-4,17 M${cx+23},${cy+25} l-4,17`).attr("stroke","#7fb0e0").attr("stroke-width",3).attr("fill","none");}}
  if(k==="gray"){sun(gI,cx+10,cy-10);cloud(gI,cx-10,cy+10,72,"#d5d5d5",BLUE);}
  if(k==="storm"){sun(gI,cx-8.5,cy-8);cloud(gI,cx+9,cy+8,54,"#d5d5d5",BLUE);
    gI.append("path").attr("transform",`translate(${cx+6},${cy+24}) scale(1.5,1.05)`).attr("d","M3,-13 L-6,2 L-1,2 L-5,13 L6,-2 L1,-2 L6,-13 Z").attr("fill","#c024c0");}
  if(k==="moon"){moon(gI,cx,cy);}
  if(k==="moonBig"){moon(gI,cx-11,cy-10);cloud(gI,cx+12,cy+10,74,"#d5d5d5",NAVY);}
  if(k==="moonSmall"){moon(gI,cx-10,cy-10);cloud(gI,cx+10,cy+9,52,"#d5d5d5",NAVY);}
  if(k==="clouds"){cloud(gI,cx-2,cy-14,54,"#d5d5d5",BLUE);cloud(gI,cx-14,cy+6,48,"#d5d5d5",BLUE);cloud(gI,cx+11,cy+7,54,"#ffffff",BLUE);}
});
</script></body></html>
